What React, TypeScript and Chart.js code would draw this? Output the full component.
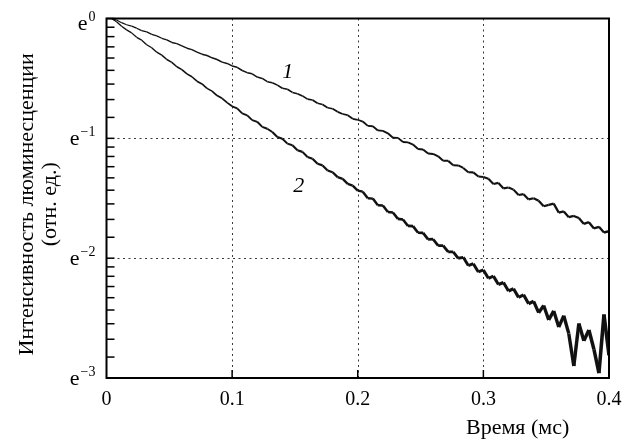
import { useEffect, useRef } from 'react';
import { Chart, registerables } from 'chart.js';

Chart.register(...registerables);

// time, ms
const times = [
  0.004, 0.008, 0.012, 0.016, 0.02, 0.024, 0.028, 0.032, 0.036, 0.04,
  0.044, 0.048, 0.052, 0.056, 0.06, 0.064, 0.068, 0.072, 0.076, 0.08,
  0.084, 0.088, 0.092, 0.096, 0.1, 0.104, 0.108, 0.112, 0.116, 0.12,
  0.124, 0.128, 0.132, 0.136, 0.14, 0.144, 0.148, 0.152, 0.156, 0.16,
  0.164, 0.168, 0.172, 0.176, 0.18, 0.184, 0.188, 0.192, 0.196, 0.2,
  0.204, 0.208, 0.212, 0.216, 0.22, 0.224, 0.228, 0.232, 0.236, 0.24,
  0.244, 0.248, 0.252, 0.256, 0.26, 0.264, 0.268, 0.272, 0.276, 0.28,
  0.284, 0.288, 0.292, 0.296, 0.3, 0.304, 0.308, 0.312, 0.316, 0.32,
  0.324, 0.328, 0.332, 0.336, 0.34, 0.344, 0.348, 0.352, 0.356, 0.36,
  0.364, 0.368, 0.372, 0.376, 0.38, 0.384, 0.388, 0.392, 0.396, 0.4,
];

// natural log of luminescence intensity, curve 1
const lnCurve1 = [
  0.0, -0.013, -0.035, -0.052, -0.064, -0.081, -0.101, -0.112, -0.132, -0.145,
  -0.165, -0.178, -0.2, -0.21, -0.229, -0.248, -0.26, -0.28, -0.298, -0.309,
  -0.328, -0.342, -0.364, -0.375, -0.396, -0.407, -0.434, -0.452, -0.462, -0.489,
  -0.5, -0.527, -0.537, -0.556, -0.582, -0.59, -0.617, -0.628, -0.646, -0.673,
  -0.68, -0.707, -0.718, -0.745, -0.753, -0.779, -0.797, -0.807, -0.837, -0.845,
  -0.86, -0.896, -0.899, -0.934, -0.938, -0.958, -0.995, -0.996, -1.031, -1.034,
  -1.052, -1.089, -1.093, -1.127, -1.13, -1.15, -1.187, -1.188, -1.224, -1.226,
  -1.247, -1.283, -1.284, -1.319, -1.322, -1.337, -1.381, -1.372, -1.418, -1.41,
  -1.428, -1.473, -1.466, -1.51, -1.5, -1.52, -1.567, -1.555, -1.545, -1.62,
  -1.61, -1.658, -1.648, -1.665, -1.714, -1.7, -1.752, -1.738, -1.786, -1.775,
];

// natural log of luminescence intensity, curve 2
const lnCurve2 = [
  0.0, -0.027, -0.065, -0.095, -0.12, -0.157, -0.181, -0.219, -0.244, -0.281,
  -0.306, -0.342, -0.366, -0.403, -0.426, -0.462, -0.486, -0.523, -0.546, -0.583,
  -0.606, -0.643, -0.666, -0.702, -0.733, -0.75, -0.792, -0.808, -0.848, -0.862,
  -0.904, -0.92, -0.947, -0.989, -1.003, -1.044, -1.058, -1.099, -1.113, -1.156,
  -1.17, -1.212, -1.226, -1.268, -1.283, -1.324, -1.338, -1.38, -1.394, -1.436,
  -1.445, -1.5, -1.503, -1.558, -1.56, -1.615, -1.619, -1.672, -1.677, -1.731,
  -1.733, -1.788, -1.789, -1.843, -1.842, -1.896, -1.895, -1.948, -1.948, -2.001,
  -1.993, -2.062, -2.046, -2.115, -2.098, -2.168, -2.15, -2.22, -2.203, -2.274,
  -2.255, -2.327, -2.306, -2.38, -2.36, -2.455, -2.395, -2.515, -2.44, -2.575,
  -2.48, -2.63, -2.9, -2.545, -2.69, -2.6, -2.76, -2.96, -2.47, -2.81,
];

const xTickValues = [0, 0.1, 0.2, 0.3, 0.4];
const xTickLabels = ['0', '0.1', '0.2', '0.3', '0.4'];
const yTickExponents = [0, -1, -2, -3];
const yTickSup = ['0', '\u22121', '\u22122', '\u22123'];
const curveLabels = ['1', '2'];
const curveLabelAt = [
  { t: 0.1443, ln: -0.447 },
  { t: 0.153, ln: -1.398 },
];
const xTitle = 'Время (мс)';
const yTitle = ['Интенсивность люминесценции', '(отн. ед.)'];

const FONT = "'Liberation Serif', 'Times New Roman', serif";

const decor = {
  id: 'decor',
  beforeDatasetsDraw(chart: any) {
    const { ctx, chartArea: a, scales } = chart;
    const xs = scales.x;
    const ys = scales.y;
    ctx.save();
    ctx.strokeStyle = '#3a3a3a';
    ctx.lineWidth = 1;
    ctx.setLineDash([2, 3.5]);
    xTickValues.slice(1, -1).forEach((v) => {
      const px = Math.round(xs.getPixelForValue(v)) + 0.5;
      ctx.beginPath();
      ctx.moveTo(px, a.top);
      ctx.lineTo(px, a.bottom);
      ctx.stroke();
    });
    yTickExponents.slice(1, -1).forEach((e) => {
      const py = Math.round(ys.getPixelForValue(Math.exp(e))) + 0.5;
      ctx.beginPath();
      ctx.moveTo(a.left, py);
      ctx.lineTo(a.right, py);
      ctx.stroke();
    });
    ctx.restore();
  },
  afterDatasetsDraw(chart: any) {
    const { ctx, chartArea: a, scales } = chart;
    const xs = scales.x;
    const ys = scales.y;
    ctx.save();
    // frame
    ctx.strokeStyle = '#000';
    ctx.lineWidth = 2;
    ctx.strokeRect(a.left, a.top, a.right - a.left, a.bottom - a.top);

    // y ticks (major + 8 minor between powers of e)
    ctx.lineWidth = 1.5;
    for (let n = 0; n < yTickExponents.length - 1; n++) {
      const hi = Math.exp(yTickExponents[n]);
      const lo = Math.exp(yTickExponents[n + 1]);
      for (let k = 0; k < 9; k++) {
        const v = hi - (k * (hi - lo)) / 9;
        const py = ys.getPixelForValue(v);
        ctx.beginPath();
        ctx.moveTo(a.left, py);
        ctx.lineTo(a.left + 8, py);
        ctx.stroke();
      }
    }
    // x ticks
    xTickValues.slice(1, -1).forEach((v) => {
      const px = xs.getPixelForValue(v);
      ctx.beginPath();
      ctx.moveTo(px, a.bottom);
      ctx.lineTo(px, a.bottom - 8);
      ctx.stroke();
    });

    ctx.fillStyle = '#000';
    // x tick labels
    ctx.font = `20px ${FONT}`;
    ctx.textAlign = 'center';
    ctx.textBaseline = 'alphabetic';
    xTickValues.forEach((v, i) => {
      ctx.fillText(xTickLabels[i], xs.getPixelForValue(v), a.bottom + 27);
    });

    // y tick labels e^n
    yTickExponents.forEach((e, i) => {
      const py = ys.getPixelForValue(Math.exp(e));
      const base = Math.max(py + 7, a.top + 11.5);
      ctx.font = `22px ${FONT}`;
      const ew = ctx.measureText('e').width;
      ctx.font = `14px ${FONT}`;
      const sw = ctx.measureText(yTickSup[i]).width;
      const right = a.left - 11;
      const x0 = right - sw - ew - 1;
      ctx.textAlign = 'left';
      ctx.font = `22px ${FONT}`;
      ctx.fillText('e', x0, base);
      ctx.font = `14px ${FONT}`;
      ctx.fillText(yTickSup[i], x0 + ew + 1, base - 9);
    });

    // curve labels
    ctx.font = `italic 22px ${FONT}`;
    ctx.textAlign = 'center';
    ctx.textBaseline = 'middle';
    curveLabels.forEach((lab, i) => {
      const p = curveLabelAt[i];
      ctx.fillText(lab, xs.getPixelForValue(p.t), ys.getPixelForValue(Math.exp(p.ln)));
    });

    // x title
    ctx.font = `22px ${FONT}`;
    ctx.textAlign = 'left';
    ctx.textBaseline = 'alphabetic';
    ctx.fillText(xTitle, 466, 434);

    // y title
    ctx.save();
    ctx.translate(33, (a.top + a.bottom) / 2 + 6);
    ctx.rotate(-Math.PI / 2);
    ctx.textAlign = 'center';
    ctx.fillText(yTitle[0], 0, 0);
    ctx.fillText(yTitle[1], 0, 23);
    ctx.restore();

    ctx.restore();
  },
};

export default function App() {
  const ref = useRef<HTMLCanvasElement>(null);
  useEffect(() => {
    const canvas = ref.current;
    if (!canvas) return;
    const mk = (ln: number[]) => times.map((t, i) => ({ x: t, y: Math.exp(ln[i]) }));
    const chart = new Chart(canvas, {
      type: 'line',
      data: {
        datasets: [
          {
            label: '1',
            data: mk(lnCurve1),
            borderColor: '#111',
            borderWidth: 1.3,
            pointRadius: 0,
            tension: 0,
            fill: false,
            segment: { borderWidth: (c: any) => 1.2 + 3 * c.p0.parsed.x },
          },
          {
            label: '2',
            data: mk(lnCurve2),
            borderColor: '#111',
            borderWidth: 1.3,
            pointRadius: 0,
            tension: 0,
            fill: false,
            segment: { borderWidth: (c: any) => 1.2 + 6 * c.p0.parsed.x },
          },
        ],
      },
      options: {
        responsive: false,
        animation: false,
        devicePixelRatio: 1,
        layout: { padding: { left: 106.5, right: 25, top: 18.5, bottom: 61 } },
        plugins: { legend: { display: false }, tooltip: { enabled: false } },
        scales: {
          x: { type: 'linear', display: false, min: 0, max: 0.4 },
          y: {
            type: 'logarithmic',
            display: false,
            min: Math.exp(-3),
            max: 1,
            afterBuildTicks: (scale: any) => {
              scale.ticks = yTickExponents.map((e) => ({ value: Math.exp(e) })).reverse();
            },
          },
        },
      },
      plugins: [decor],
    });
    return () => chart.destroy();
  }, []);
  return (
    <div style={{ position: 'fixed', left: 0, top: 0, width: 634, height: 439, background: '#fff' }}>
      <canvas ref={ref} width={634} height={439} style={{ display: 'block' }} />
    </div>
  );
}
